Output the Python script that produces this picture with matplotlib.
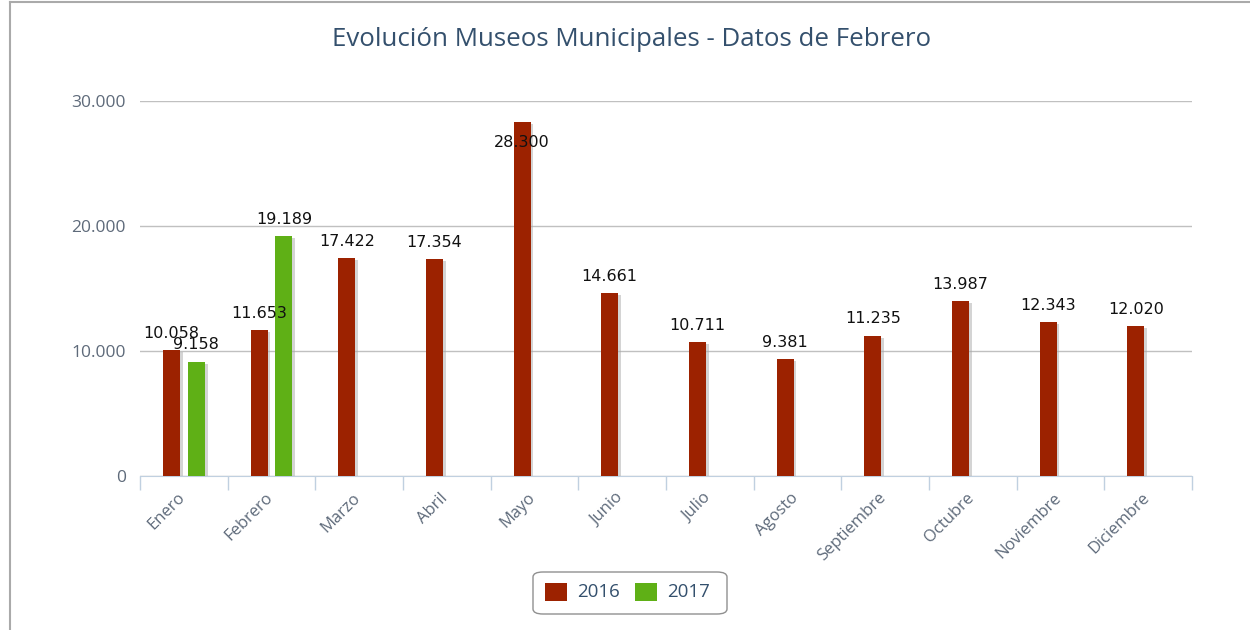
import matplotlib
matplotlib.use("Agg")
import matplotlib.pyplot as plt
import matplotlib.patheffects as pe
from matplotlib.patches import FancyBboxPatch, Rectangle
from matplotlib.lines import Line2D
import matplotlib.transforms as mtransforms
import numpy as np

months = ["Enero", "Febrero", "Marzo", "Abril", "Mayo", "Junio", "Julio",
          "Agosto", "Septiembre", "Octubre", "Noviembre", "Diciembre"]
v2016 = [10058, 11653, 17422, 17354, 28300, 14661, 10711, 9381, 11235, 13987, 12343, 12020]
v2017 = [9158, 19189]
series_names = ["2016", "2017"]
colors = ["#9c2200", "#5fb016"]
yticks = [0, 10000, 20000, 30000]

def fmt(v):
    return f"{v:,}".replace(",", ".")

plt.rcParams['font.family'] = ['Open Sans', 'DejaVu Sans']
fig = plt.figure(figsize=(12.5, 6.3), dpi=100)
ax = fig.add_axes([0.112, 0.2444, 0.8416, 0.5953])

x = np.arange(len(months))
bw = 0.195
off = 0.142
shadow = [pe.SimplePatchShadow(offset=(2, -1.5), shadow_rgbFace="#aaaaaa", alpha=0.5), pe.Normal()]

b1 = ax.bar(x - off, v2016, width=bw, color=colors[0], zorder=3)
b2 = ax.bar(x[:len(v2017)] + off, v2017, width=bw, color=colors[1], zorder=3)
for b in list(b1) + list(b2):
    b.set_path_effects(shadow)

ymax = 30000

def label(xi, v):
    # Highcharts keeps the label inside the plot area: labels that would cross the top go inside the bar
    dy = 12.0 if v < 0.9 * ymax else -14.5
    ax.annotate(fmt(v), (xi, v), xytext=(0, dy), textcoords="offset points",
                ha="center", va="center", fontsize=11.5, color="#111111",
                family="DejaVu Sans", zorder=5)

for xi, v in zip(x - off, v2016):
    label(xi, v)
for xi, v in zip(x[:len(v2017)] + off, v2017):
    label(xi, v)

ax.set_xlim(-0.5, len(months) - 0.5)
ax.set_ylim(0, ymax)
ax.set_yticks(yticks)
ax.set_yticklabels([fmt(t) for t in yticks], fontsize=12.5, color="#5e6a7a")
ax.yaxis.grid(True, color="#c0c0c0", linewidth=1, zorder=0)
ax.tick_params(axis="y", length=0, pad=10)

ax.set_xticks(x)
ax.set_xticklabels(months, rotation=45, ha="right", rotation_mode="anchor",
                   fontsize=12, color="#5e6a7a")
ax.tick_params(axis="x", length=0, pad=10)
shift = mtransforms.ScaledTranslation(-7/100, 0, fig.dpi_scale_trans)
for lab in ax.get_xticklabels():
    lab.set_transform(lab.get_transform() + shift)
ax.set_xticks(np.arange(-0.5, len(months), 1), minor=True)
ax.tick_params(axis="x", which="minor", length=10, color="#c0d0e0", width=1)

for s in ["top", "right", "left"]:
    ax.spines[s].set_visible(False)
ax.spines["bottom"].set_color("#c0d0e0")

fig.text(0.505, 0.938, "Evolución Museos Municipales - Datos de Febrero",
         ha="center", va="center", fontsize=18.6, color="#34506d")

# legend box
lx0, ly0, lw, lh = 533/1250, 1 - 614/630, 194/1250, 42/630
fig.patches.append(FancyBboxPatch((lx0, ly0), lw, lh, boxstyle="round,pad=0,rounding_size=0.008",
                                  transform=fig.transFigure, facecolor="white",
                                  edgecolor="#909090", linewidth=1))
sq_w, sq_h = 22/1250, 18/630
for i, (name, c) in enumerate(zip(series_names, colors)):
    sx = (545 + i * 90) / 1250
    sy = 1 - 601/630
    fig.patches.append(Rectangle((sx, sy), sq_w, sq_h, transform=fig.transFigure,
                                 facecolor=c, edgecolor="none"))
    fig.text(sx + 32/1250, sy + sq_h/2, name, ha="left", va="center",
             fontsize=13.5, color="#34506d")

# outer frame lines
fig.add_artist(Line2D([0.008, 1], [0.997, 0.997], transform=fig.transFigure, color="#aaaaaa", lw=1.5))
fig.add_artist(Line2D([0.008, 0.008], [0, 0.997], transform=fig.transFigure, color="#aaaaaa", lw=1.5))

fig.savefig("out.png", dpi=100)
